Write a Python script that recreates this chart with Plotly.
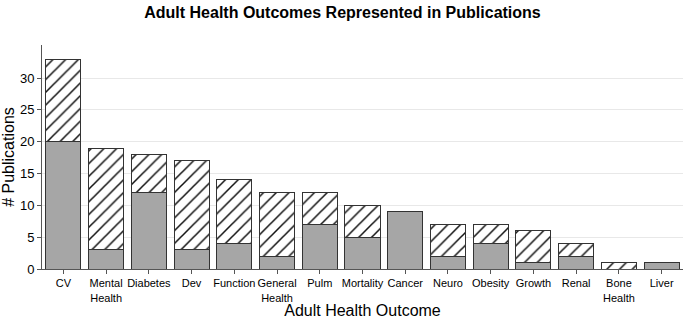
import plotly.graph_objects as go

categories = ["CV", "Mental<br>Health", "Diabetes", "Dev", "Function", "General<br>Health",
              "Pulm", "Mortality", "Cancer", "Neuro", "Obesity", "Growth", "Renal",
              "Bone<br>Health", "Liver"]
solid_vals = [20, 3, 12, 3, 4, 2, 7, 5, 9, 2, 4, 1, 2, 0, 1]
hatched_vals = [13, 16, 6, 14, 10, 10, 5, 5, 0, 5, 3, 5, 2, 1, 0]

fig = go.Figure()
fig.add_trace(go.Bar(
    x=categories, y=solid_vals, name="solid",
    marker=dict(color="#a6a6a6", line=dict(color="#333333", width=1)),
))
fig.add_trace(go.Bar(
    x=categories, y=hatched_vals, name="hatched",
    marker=dict(color="white", line=dict(color="#333333", width=1),
                pattern=dict(shape="/", fgcolor="#111111", bgcolor="white", fgopacity=1,
                             fillmode="replace", size=9, solidity=0.17)),
))

fig.update_layout(
    barmode="stack",
    bargap=0.18,
    width=685, height=319,
    margin=dict(l=42, r=2, t=45, b=50),
    paper_bgcolor="white", plot_bgcolor="white",
    showlegend=False,
    font=dict(family="Liberation Sans, Arial", color="black"),
    title=dict(text="<b>Adult Health Outcomes Represented in Publications</b>",
               x=0.5, xanchor="center", y=0.96, yanchor="middle",
               font=dict(size=16, color="black")),
    xaxis=dict(
        title=dict(text="Adult Health Outcome", font=dict(size=16), standoff=0),
        showline=True, linecolor="#555555", linewidth=1,
        ticks="outside", ticklen=4, tickcolor="#555555",
        tickfont=dict(size=11), tickangle=0, automargin=False,
    ),
    yaxis=dict(
        title=dict(text="# Publications", font=dict(size=16), standoff=1),
        range=[0, 35.2], tickvals=[0, 5, 10, 15, 20, 25, 30],
        showline=True, linecolor="#555555", linewidth=1,
        ticks="outside", ticklen=4, tickcolor="#555555",
        tickfont=dict(size=13), automargin=False,
        showgrid=True, gridcolor="#e8e8e8", gridwidth=1,
        zeroline=False,
    ),
)

fig.write_html("out.html", config={"displayModeBar": False},
               post_script="document.body.style.margin='0';")
